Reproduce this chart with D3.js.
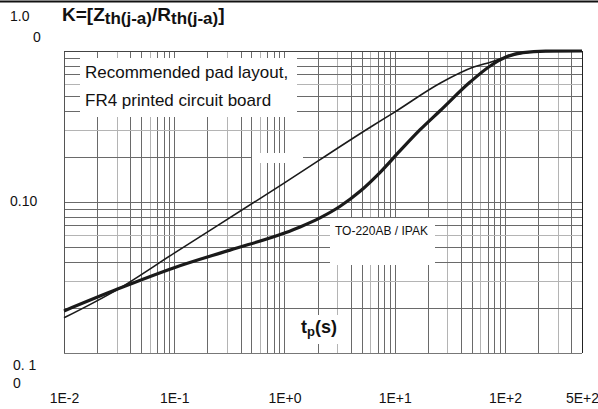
<!DOCTYPE html>
<html><head><meta charset="utf-8">
<script src="https://cdn.jsdelivr.net/npm/d3@7"></script>
<style>
html,body{margin:0;padding:0;background:#fff;}
svg{display:block;font-family:"Liberation Sans",Arial,sans-serif;}
</style></head>
<body>
<svg id="chart" width="598" height="409"></svg>
<script>
// ---- data ----
const tThick = [0.01, 0.031, 0.1, 0.32, 1, 1.386, 2.10, 3.20, 4.85, 7.38, 11.2, 17.0, 25.8, 48.3, 73.4, 104.7, 146, 234, 500];
const kThick = [0.019, 0.0266, 0.0367, 0.048, 0.0623, 0.0684, 0.0785, 0.0937, 0.1178, 0.1574, 0.2187, 0.301, 0.402, 0.623, 0.796, 0.918, 0.976, 0.997, 1.0];
const tThin = [0.01, 0.031, 0.1, 0.57, 1, 6.05, 10, 26, 52, 75, 106, 150, 212, 500];
const kThin = [0.0171, 0.0265, 0.0459, 0.103, 0.134, 0.314, 0.394, 0.614, 0.783, 0.846, 0.92, 0.975, 0.995, 1.0];
const xTickValues = [0.01, 0.1, 1, 10, 100, 500];
const xTickLabels = ["1E-2", "1E-1", "1E+0", "1E+1", "1E+2", "5E+2"];
const yTickValues = [0.01, 0.1, 1];
const yTickLabels = [["0. 1", "0"], ["0.10"], ["1.0", "0"]];
const legendLines = ["Recommended pad layout,", "FR4 printed circuit board"];
const curveLabel = "TO-220AB / IPAK";

// ---- layout ----
const svg = d3.select("#chart");
const L = 64, R = 582, T = 51, B = 353;
const x = d3.scaleLog().domain([0.01, 500]).range([L, R]);
const y = d3.scaleLog().domain([0.01, 1]).range([B, T]);

// top rule of page
svg.append("line").attr("x1", 0).attr("x2", 598).attr("y1", 1.5).attr("y2", 1.5)
  .attr("stroke", "#111").attr("stroke-width", 2);

// grid
const vGrid = [];
[0.01, 0.1, 1, 10, 100].forEach(d => { for (let m = 1; m <= 9; m++) { const v = m * d; if (v <= 500.0001) vGrid.push({v, m}); } });
vGrid.push({v: 500, m: 1});
const hGrid = [];
[0.01, 0.1].forEach(d => { for (let m = 1; m <= 9; m++) hGrid.push({v: m * d, m}); });
hGrid.push({v: 1, m: 1});
const gridColor = m => (m === 3 || m === 6) ? "#b4b4b4" : "#6a6a6a";

const grid = svg.append("g");
grid.selectAll("line.v").data(vGrid).join("line").attr("class", "v")
  .attr("x1", d => Math.round(x(d.v)) + 0.5).attr("x2", d => Math.round(x(d.v)) + 0.5)
  .attr("y1", T).attr("y2", B).attr("stroke", d => gridColor(d.m)).attr("stroke-width", 1);
grid.selectAll("line.h").data(hGrid).join("line").attr("class", "h")
  .attr("y1", d => Math.round(y(d.v)) + 0.5).attr("y2", d => Math.round(y(d.v)) + 0.5)
  .attr("x1", L).attr("x2", R).attr("stroke", d => gridColor(d.m)).attr("stroke-width", 1);

// frame
svg.append("line").attr("x1", L).attr("x2", R).attr("y1", B + 0.5).attr("y2", B + 0.5).attr("stroke", "#777").attr("stroke-width", 1.2);
svg.append("line").attr("x1", L + 0.5).attr("x2", L + 0.5).attr("y1", T).attr("y2", B).attr("stroke", "#555");
svg.append("line").attr("x1", R + 0.5).attr("x2", R + 0.5).attr("y1", T).attr("y2", B).attr("stroke", "#222");
svg.append("line").attr("x1", L).attr("x2", R).attr("y1", T + 0.5).attr("y2", T + 0.5).attr("stroke", "#444");

// white label backgrounds
const boxes = [[80, 58, 217, 59], [252, 153, 51, 10], [330, 218, 105, 47], [290, 315, 55, 29]];
svg.selectAll("rect.bg").data(boxes).join("rect").attr("class", "bg")
  .attr("x", d => d[0]).attr("y", d => d[1]).attr("width", d => d[2]).attr("height", d => d[3])
  .attr("fill", "#fff");

// curves
const line = d3.line().x(d => x(d[0])).y(d => y(d[1])).curve(d3.curveMonotoneX);
svg.append("path").datum(d3.zip(tThin, kThin)).attr("d", line)
  .attr("fill", "none").attr("stroke", "#1a1a1a").attr("stroke-width", 1.6);
svg.append("path").datum(d3.zip(tThick, kThick)).attr("d", line)
  .attr("fill", "none").attr("stroke", "#1a1a1a").attr("stroke-width", 3.2);

// x axis labels
const xAxis = d3.axisBottom(x).tickValues(xTickValues).tickSize(0)
  .tickFormat((d, i) => xTickLabels[i]);
const gx = svg.append("g").attr("transform", `translate(0,${B})`).call(xAxis);
gx.select(".domain").remove();
gx.selectAll("text").attr("y", 50).attr("dy", 0).attr("fill", "#111")
  .attr("font-size", 14).attr("font-family", "Liberation Sans, Arial, sans-serif");

// y axis labels (wrapped as in the original)
const yAxis = d3.axisLeft(y).tickValues(yTickValues).tickSize(0).tickFormat(() => "");
const gy = svg.append("g").attr("transform", `translate(${L},0)`).call(yAxis);
gy.select(".domain").remove();
const yOff = {0.01: [[-51, 16], [-51, 34]], 0.1: [[-54, 3]], 1: [[-54, -31], [-31, -10]]};
gy.selectAll(".tick").each(function (d) {
  const i = yTickValues.indexOf(d);
  const g = d3.select(this);
  g.select("text").remove();
  yTickLabels[i].forEach((s, j) => {
    g.append("text").attr("x", yOff[d][j][0]).attr("y", yOff[d][j][1])
      .attr("text-anchor", "start").attr("font-size", 14).attr("fill", "#111")
      .attr("font-family", "Liberation Sans, Arial, sans-serif").text(s);
  });
});

// title
const title = svg.append("text").attr("x", 62).attr("y", 21).attr("font-weight", "bold")
  .attr("font-size", 19).attr("fill", "#111");
title.append("tspan").text("K=[Z");
title.append("tspan").attr("font-size", 17).attr("dy", 3).text("th(j-a)");
title.append("tspan").attr("dy", -3).text("/R");
title.append("tspan").attr("font-size", 17).attr("dy", 3).text("th(j-a)");
title.append("tspan").attr("dy", -3).text("]");

// legend text
svg.selectAll("text.leg").data(legendLines).join("text").attr("class", "leg")
  .attr("x", 85).attr("y", (d, i) => 78 + i * 28).attr("font-size", 17).attr("fill", "#111").text(d => d);

// curve label
svg.append("text").attr("x", 335).attr("y", 235).attr("font-size", 12).attr("fill", "#111").text(curveLabel);

// tp(s)
const tp = svg.append("text").attr("x", 301).attr("y", 333).attr("font-weight", "bold")
  .attr("font-size", 18).attr("fill", "#111");
tp.append("tspan").text("t");
tp.append("tspan").attr("font-size", 13).attr("dy", 3).text("p");
tp.append("tspan").attr("dy", -3).text("(s)");
</script>
</body></html>
